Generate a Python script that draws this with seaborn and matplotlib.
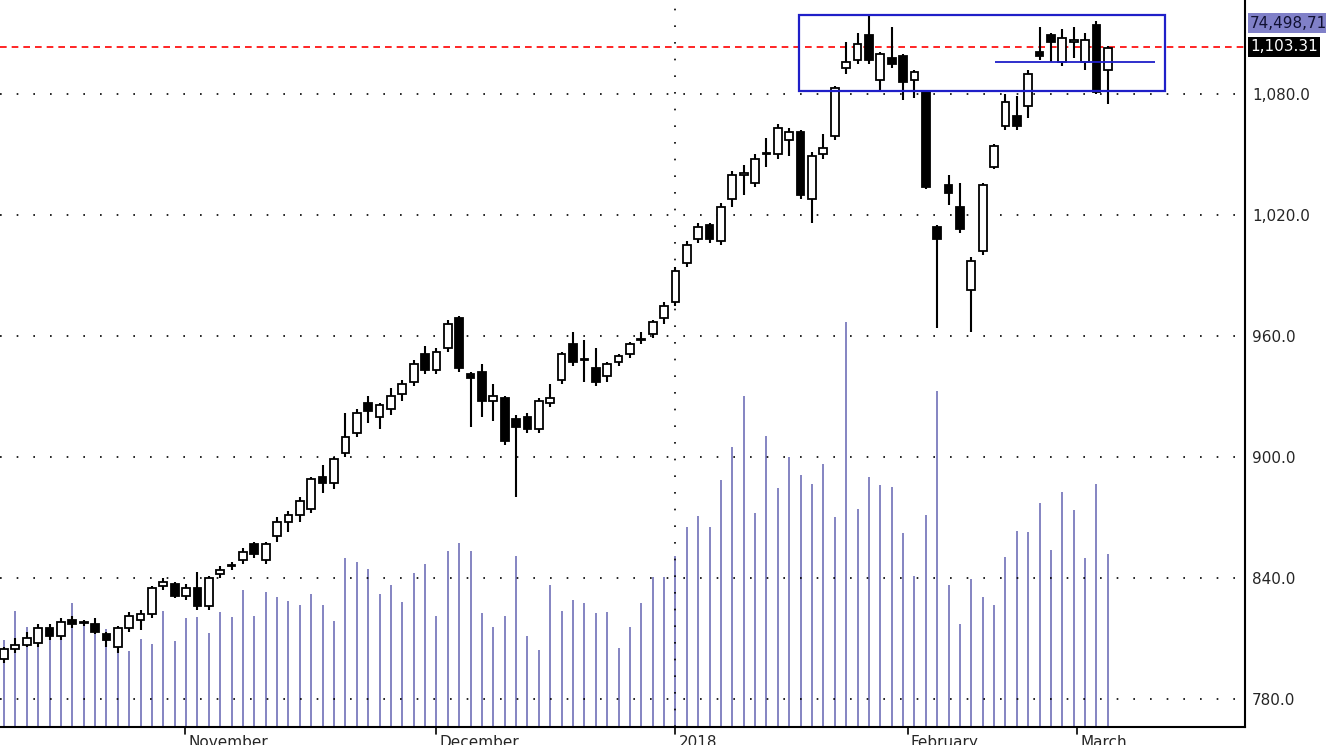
import matplotlib
matplotlib.use("Agg")
import numpy as np
import pandas as pd
import matplotlib.pyplot as plt
import matplotlib.patches as mpatches
import seaborn as sns

# daily OHLC (Oct 2017 - Mar 2018)
opens = [800, 805, 807, 808, 815, 811, 819, 817.5, 817, 812, 806, 815, 819, 822, 836, 837, 831, 835, 826, 842,
         846, 849, 857, 849, 861, 868, 871, 874, 890, 887, 902, 912, 927, 920, 924, 931, 937, 951, 943, 954,
         969, 941, 942, 928, 929, 919, 920, 914, 927, 938, 956, 948, 944, 940, 947, 951, 958, 961, 969, 977,
         996, 1008, 1015, 1007, 1028, 1040, 1036, 1050, 1050, 1057, 1061, 1028, 1050, 1059, 1093, 1097, 1109, 1087, 1098, 1099,
         1087, 1081, 1014, 1035, 1024, 983, 1002, 1044, 1064, 1069, 1074, 1101, 1109, 1096, 1106, 1096, 1114, 1092]
closes = [805, 807, 810, 815, 811, 818, 817, 817.5, 813, 809, 815, 821, 822, 835, 838, 831, 835, 826, 840, 844,
          846, 853, 852, 857, 868, 871, 878, 889, 887, 899, 910, 922, 923, 926, 930, 936, 946, 943, 952, 966,
          944, 939, 928, 930, 908, 915, 914, 928, 929, 951, 947, 948, 937, 946, 950, 956, 958, 967, 975, 992,
          1005, 1014, 1008, 1024, 1040, 1040, 1048, 1050, 1063, 1061, 1030, 1049, 1053, 1083, 1096, 1105, 1097, 1100, 1095, 1086,
          1091, 1034, 1008, 1031, 1013, 997, 1035, 1054, 1076, 1064, 1090, 1099, 1106, 1108, 1106, 1107, 1081, 1103]
highs = [806, 810, 813, 817, 817, 820, 821, 819, 820, 813, 816, 823, 824, 836, 840, 838, 837, 843, 841, 846,
         848, 855, 858, 858, 870, 873, 880, 890, 896, 900, 922, 924, 930, 927, 934, 938, 948, 955, 954, 968,
         970, 942, 946, 936, 930, 921, 922, 929, 936, 952, 962, 958, 954, 947, 951, 957, 962, 968, 977, 994,
         1007, 1016, 1016, 1026, 1042, 1045, 1050, 1058, 1065, 1063, 1062, 1051, 1060, 1084, 1106, 1110, 1119, 1101, 1113, 1100,
         1092, 1081, 1015, 1040, 1036, 999, 1036, 1055, 1080, 1079, 1092, 1113, 1110, 1112, 1113, 1110, 1116, 1104]
lows = [798, 803, 806, 806, 809, 809, 815, 816, 812, 806, 803, 813, 814, 820, 834, 830, 829, 824, 824, 840,
        844, 847, 850, 847, 858, 863, 868, 872, 882, 884, 900, 910, 917, 914, 921, 928, 935, 941, 941, 952,
        942, 915, 920, 918, 906, 880, 912, 912, 925, 936, 945, 937, 935, 937, 945, 949, 956, 959, 966, 975,
        994, 1006, 1006, 1005, 1024, 1030, 1034, 1044, 1048, 1049, 1028, 1016, 1048, 1057, 1090, 1095, 1095, 1081, 1093, 1077,
        1078, 1033, 964, 1025, 1011, 962, 1000, 1043, 1062, 1062, 1068, 1097, 1096, 1094, 1098, 1092, 1080, 1075]
# volume, millions of shares
volumes = [37.4, 49.9, 43.0, 34.8, 43.0, 45.2, 53.3, 44.7, 46.0, 42.1, 31.8, 32.7, 37.8, 35.7, 49.9, 37.0, 46.9, 47.3, 40.4, 49.5,
           47.3, 58.9, 47.7, 58.1, 55.9, 54.2, 52.5, 57.2, 52.5, 45.6, 72.7, 71.0, 67.9, 57.2, 61.1, 53.8, 66.2, 70.1, 47.7, 75.7,
           79.1, 75.7, 49.0, 43.0, 47.7, 73.5, 39.1, 33.1, 61.1, 49.9, 54.6, 53.3, 49.0, 49.5, 34.0, 43.0, 53.3, 64.5, 64.5, 73.5,
           86.0, 90.7, 86.0, 106.2, 120.4, 142.3, 92.0, 125.1, 102.8, 116.1, 108.4, 104.5, 113.1, 90.3, 174.2, 93.7, 107.5, 104.1, 103.2, 83.4,
           64.9, 91.2, 144.5, 61.1, 44.3, 63.6, 55.9, 52.5, 73.1, 84.3, 83.9, 96.3, 76.1, 101.1, 93.3, 72.7, 104.5, 74.5]
month_labels = ["October", "November", "December", "2018", "February", "March"]
month_ticks = [-16.1, 15.9, 38.0, 59.0, 79.4, 94.3]
price_ticks = [780, 840, 900, 960, 1020, 1080]
last_price = 1103.31
last_volume = 74498712

df = pd.DataFrame({"open": opens, "high": highs, "low": lows, "close": closes, "volume": volumes})
df["idx"] = np.arange(len(df))
df["up"] = df["close"] >= df["open"]

sns.set_style("white")
plt.rcParams["font.family"] = ["DejaVu Sans"]

W, H = 1326, 745
fig = plt.figure(figsize=(W / 100, H / 100), dpi=100)
ax = fig.add_axes([0, 18 / H, 1245 / W, 727 / H])
ax2 = ax.twinx()
ax.set_zorder(ax2.get_zorder() + 1)
ax.patch.set_visible(False)

ax.set_xlim(-0.35, 109.05)
ax.set_ylim(766.1, 1126.6)
ax2.set_ylim(0, 312.6)

# volume sticks
ax2.vlines(df["idx"], 0, df["volume"], color="#7070b8", lw=1.2)
ax2.set_yticks([])

# grid
for p in price_ticks:
    ax.axhline(p, color="black", lw=1.2, ls=(0, (1, 9)), zorder=0)
ax.axvline(month_ticks[3], color="black", lw=1.2, ls=(0, (1, 9)), zorder=0)

# candles
ax.vlines(df["idx"], df["low"], df["high"], color="black", lw=1.5, zorder=2)
body_lo = df[["open", "close"]].min(axis=1)
body_h = (df["close"] - df["open"]).abs().clip(lower=0.6)
ax.bar(df["idx"], body_h, bottom=body_lo, width=0.68,
       color=np.where(df["up"], "white", "black"), edgecolor="black", lw=1.3, zorder=3)

# last price line and range box
ax.axhline(last_price, color="red", lw=1.2, ls=(0, (4, 3)), zorder=1)
ax.add_patch(mpatches.Rectangle((69.9, 1081.5), 32.1, 37.7, fill=False, ec="#1f1fc8", lw=1.6, zorder=4))
ax.hlines(1095.9, 87.1, 101.1, color="#1f1fc8", lw=1.3, zorder=4)

# axes / ticks
ax.yaxis.tick_right()
ax.set_yticks(price_ticks)
ax.set_yticklabels([f"{p:,.1f}" for p in price_ticks], fontsize=11)
ax.tick_params(axis="y", length=0, pad=5)
ax.set_xticks([])
for s in ["top", "left"]:
    ax.spines[s].set_visible(False)
    ax2.spines[s].set_visible(False)
for s in ["right", "bottom"]:
    ax.spines[s].set_color("black")
    ax.spines[s].set_linewidth(1.5)
ax2.spines["right"].set_visible(False)
ax2.spines["bottom"].set_visible(False)

for lab, xm in zip(month_labels, month_ticks):
    ax.plot([xm, xm], [766.1, 762.5], color="black", lw=1.2, clip_on=False)
    ax.text(xm + 0.3, 762.3, lab, ha="left", va="top", fontsize=11, clip_on=False)

# right-side value tags
ax.text(1.004, (1115.1 - 766.1) / 360.5, f"{last_volume:,}"[:9], transform=ax.transAxes, ha="left", va="center",
        fontsize=11, color="#111133", bbox=dict(boxstyle="square,pad=0.15", fc="#8080c8", ec="none"))
ax.text(1.004, (last_price - 766.1) / 360.5, f"{last_price:,.2f}", transform=ax.transAxes, ha="left", va="center",
        fontsize=11, color="white", bbox=dict(boxstyle="square,pad=0.15", fc="black", ec="none"))

fig.savefig("out.png", dpi=100)
